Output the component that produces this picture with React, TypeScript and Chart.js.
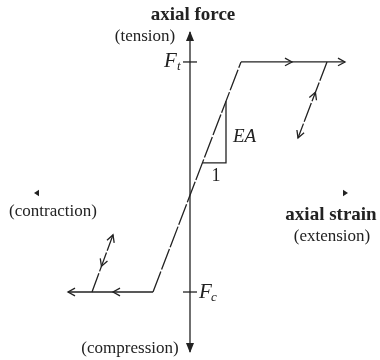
import { useEffect, useRef } from "react";
import { Chart, registerables } from "chart.js";

Chart.register(...registerables);

// Bilinear axial force–strain law (strain: arbitrary units, force: F / F_t)
const envelopeStrain = [-1.22, -0.37, 0.51, 1.55];
const envelopeForce = [-0.756, -0.756, 1, 1];
const unloadRightStrain = [1.37, 1.08];
const unloadRightForce = [1, 0.42];
const unloadLeftStrain = [-0.98, -0.77];
const unloadLeftForce = [-0.756, -0.32];
const slopeStrain = [0.125, 0.36, 0.36];
const slopeForce = [0.229, 0.229, 0.701];
const forceAxisEnds = [-1.214, 1.229];
const tensionLevel = 1;
const compressionLevel = -0.756;
const plateauArrowStrain = [1.02, -0.77];
const strainPointers = [-1.56, 1.58];

const INK = "#222";
const SERIF = '"Liberation Serif", "DejaVu Serif", serif';

const pts = (xs: number[], ys: number[]) => xs.map((x, i) => ({ x, y: ys[i] }));

function chevron(ctx: CanvasRenderingContext2D, x: number, y: number, ang: number, len = 8) {
  const spread = 0.5;
  ctx.beginPath();
  ctx.moveTo(x - len * Math.cos(ang - spread), y - len * Math.sin(ang - spread));
  ctx.lineTo(x, y);
  ctx.lineTo(x - len * Math.cos(ang + spread), y - len * Math.sin(ang + spread));
  ctx.stroke();
}

function solidHead(ctx: CanvasRenderingContext2D, x: number, y: number, ang: number, len: number, half: number) {
  const bx = x - len * Math.cos(ang);
  const by = y - len * Math.sin(ang);
  const nx = -Math.sin(ang);
  const ny = Math.cos(ang);
  ctx.beginPath();
  ctx.moveTo(x, y);
  ctx.lineTo(bx + nx * half, by + ny * half);
  ctx.lineTo(bx - nx * half, by - ny * half);
  ctx.closePath();
  ctx.fill();
}

const marksPlugin = {
  id: "diagramMarks",
  afterDatasetsDraw(chart: any) {
    const ctx: CanvasRenderingContext2D = chart.ctx;
    const sx = chart.scales.x;
    const sy = chart.scales.y;
    const px = (v: number) => sx.getPixelForValue(v);
    const py = (v: number) => sy.getPixelForValue(v);
    ctx.save();
    ctx.strokeStyle = INK;
    ctx.fillStyle = INK;
    ctx.lineWidth = 1.3;

    // force axis arrowheads
    const x0 = px(0);
    solidHead(ctx, x0, py(forceAxisEnds[1]) - 1, -Math.PI / 2, 10, 4);
    solidHead(ctx, x0, py(forceAxisEnds[0]) + 1, Math.PI / 2, 10, 4);

    // capacity ticks
    for (const lvl of [tensionLevel, compressionLevel]) {
      ctx.beginPath();
      ctx.moveTo(x0 - 7, py(lvl));
      ctx.lineTo(x0 + 7, py(lvl));
      ctx.stroke();
    }

    // plateau arrows
    chevron(ctx, px(plateauArrowStrain[0]), py(tensionLevel), 0);
    chevron(ctx, px(envelopeStrain[3]), py(tensionLevel), 0);
    chevron(ctx, px(plateauArrowStrain[1]), py(compressionLevel), Math.PI);
    chevron(ctx, px(envelopeStrain[0]), py(compressionLevel), Math.PI);

    // unloading / reloading arrows
    const along = (xs: number[], ys: number[], t: number) => ({
      x: px(xs[0] + (xs[1] - xs[0]) * t),
      y: py(ys[0] + (ys[1] - ys[0]) * t),
    });
    const angR = Math.atan2(py(unloadRightForce[1]) - py(unloadRightForce[0]), px(unloadRightStrain[1]) - px(unloadRightStrain[0]));
    const rMid = along(unloadRightStrain, unloadRightForce, 0.4);
    const rEnd = along(unloadRightStrain, unloadRightForce, 1);
    chevron(ctx, rMid.x, rMid.y, angR + Math.PI);
    chevron(ctx, rEnd.x, rEnd.y, angR);

    const angL = Math.atan2(py(unloadLeftForce[1]) - py(unloadLeftForce[0]), px(unloadLeftStrain[1]) - px(unloadLeftStrain[0]));
    const lMid = along(unloadLeftStrain, unloadLeftForce, 0.45);
    const lEnd = along(unloadLeftStrain, unloadLeftForce, 1);
    chevron(ctx, lMid.x, lMid.y, angL + Math.PI);
    chevron(ctx, lEnd.x, lEnd.y, angL);

    // strain direction pointers
    solidHead(ctx, px(strainPointers[0]), py(0), Math.PI, 5, 3.2);
    solidHead(ctx, px(strainPointers[1]), py(0), 0, 5, 3.2);

    // labels
    ctx.textBaseline = "middle";
    ctx.textAlign = "center";
    ctx.font = `bold 19px ${SERIF}`;
    ctx.fillText("axial force", x0 + 3, 15);
    ctx.fillText("axial strain", 331, py(0) + 22);
    ctx.font = `17px ${SERIF}`;
    ctx.fillText("(tension)", 145, 37);
    ctx.fillText("(contraction)", 53, py(0) + 19);
    ctx.fillText("(extension)", 332, py(0) + 44);
    ctx.fillText("(compression)", 130, 349);

    ctx.font = `18px ${SERIF}`;
    ctx.fillText("1", px(0.26), py(slopeForce[0]) + 13);

    ctx.textAlign = "left";
    ctx.font = `italic 19px ${SERIF}`;
    ctx.fillText("EA", px(slopeStrain[1]) + 7, 137);

    ctx.font = `italic 21px ${SERIF}`;
    ctx.fillText("F", 164, py(tensionLevel));
    ctx.fillText("F", 199, py(compressionLevel));
    ctx.font = `italic 13px ${SERIF}`;
    ctx.fillText("t", 177, py(tensionLevel) + 5);
    ctx.fillText("c", 211, py(compressionLevel) + 6);

    ctx.restore();
  },
};

export default function App() {
  const ref = useRef<HTMLCanvasElement | null>(null);

  useEffect(() => {
    if (!ref.current) return;
    const line = (data: any, extra: any = {}) => ({
      data,
      showLine: true,
      borderColor: INK,
      borderWidth: 1.3,
      pointRadius: 0,
      tension: 0,
      fill: false,
      ...extra,
    });
    const chart = new Chart(ref.current, {
      type: "scatter",
      data: {
        datasets: [
          line(pts([0, 0], forceAxisEnds)),
          line(pts(envelopeStrain, envelopeForce), {
            segment: { borderDash: (c: any) => (c.p0DataIndex === 1 ? [22, 2] : undefined) },
          }),
          line(pts(unloadRightStrain, unloadRightForce), {
            segment: { borderDash: () => [20, 2] },
          }),
          line(pts(unloadLeftStrain, unloadLeftForce), {
            segment: { borderDash: () => [20, 2] },
          }),
          line(pts(slopeStrain, slopeForce)),
        ],
      },
      options: {
        responsive: false,
        animation: false,
        events: [],
        layout: { padding: 0 },
        plugins: { legend: { display: false }, tooltip: { enabled: false } },
        scales: {
          x: { type: "linear", display: false, min: -1.9, max: 1.9 },
          y: { type: "linear", display: false, min: -1.275, max: 1.473 },
        },
      },
      plugins: [marksPlugin],
    });
    return () => chart.destroy();
  }, []);

  return (
    <div style={{ position: "fixed", left: 0, top: 0, width: 380, height: 360, background: "#fff" }}>
      <canvas ref={ref} width={380} height={360} />
    </div>
  );
}
